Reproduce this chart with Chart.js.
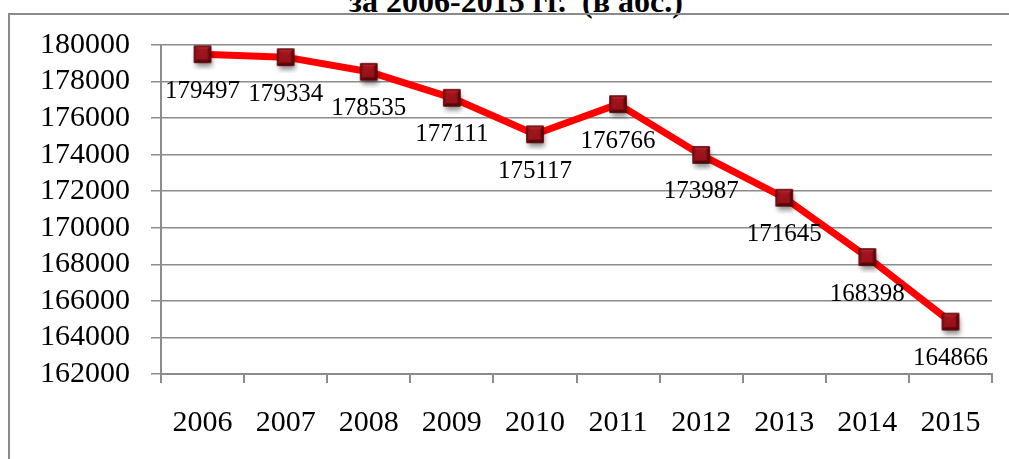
<!DOCTYPE html>
<html>
<head>
<meta charset="utf-8">
<script src="https://cdn.jsdelivr.net/npm/chart.js@4.4.1/dist/chart.umd.min.js"></script>
<style>
  html, body { margin: 0; padding: 0; background: #fff; }
  #wrap { position: relative; width: 1009px; height: 459px; overflow: hidden; background: #fff; }
  #title { position: absolute; left: 0; width: 1032px; top: -18px; text-align: center;
           font: bold 32px "Liberation Serif", "Times New Roman", serif; color: #000; white-space: pre; line-height: 38px; }
  #frameTop { position: absolute; left: 8px; top: 13px; width: 1001px; height: 2px; background: #8a8a8a; }
  #frameLeft { position: absolute; left: 8px; top: 13px; width: 2px; height: 446px; background: #8a8a8a; }
  canvas { position: absolute; left: 0; top: 0; }
</style>
</head>
<body>
<div id="wrap">
  <div id="title">за 2006-2015 гг.  (в абс.)</div>
  <div id="frameTop"></div>
  <div id="frameLeft"></div>
  <canvas id="c" width="1009" height="459"></canvas>
</div>
<script>
const categories = ["2006", "2007", "2008", "2009", "2010", "2011", "2012", "2013", "2014", "2015"];
const values = [179497, 179334, 178535, 177111, 175117, 176766, 173987, 171645, 168398, 164866];
const yMin = 162000;
const yMax = 180000;
const yStep = 2000;

// marker image (dark red bevelled square with soft shadow)
function makeMarker() {
  const cv = document.createElement('canvas');
  cv.width = 32; cv.height = 32;
  const g = cv.getContext('2d');
  const s = 17, x0 = 16 - s / 2, y0 = 16 - s / 2;
  g.save();
  g.shadowColor = 'rgba(0,0,0,0.45)';
  g.shadowBlur = 5;
  g.shadowOffsetX = 1;
  g.shadowOffsetY = 4;
  g.fillStyle = '#7d0a0e';
  g.fillRect(x0, y0, s, s);
  g.restore();
  const cx = 16, cy = 16;
  g.fillStyle = '#b0242b';
  g.beginPath(); g.moveTo(x0, y0); g.lineTo(x0 + s, y0); g.lineTo(cx, cy); g.closePath(); g.fill();
  g.fillStyle = '#8f1218';
  g.beginPath(); g.moveTo(x0, y0); g.lineTo(cx, cy); g.lineTo(x0, y0 + s); g.closePath(); g.fill();
  g.fillStyle = '#6a060a';
  g.beginPath(); g.moveTo(x0 + s, y0); g.lineTo(cx, cy); g.lineTo(x0 + s, y0 + s); g.closePath(); g.fill();
  g.fillStyle = '#5e0508';
  g.beginPath(); g.moveTo(x0, y0 + s); g.lineTo(cx, cy); g.lineTo(x0 + s, y0 + s); g.closePath(); g.fill();
  g.fillStyle = 'rgba(160,20,28,0.9)';
  g.fillRect(x0 + 3, y0 + 3, s - 6, s - 6);
  g.strokeStyle = '#4a0306';
  g.lineWidth = 1;
  g.strokeRect(x0 + 0.5, y0 + 0.5, s - 1, s - 1);
  return cv;
}

const labelPlugin = {
  id: 'valueLabels',
  afterDatasetsDraw(chart) {
    const ctx = chart.ctx;
    const meta = chart.getDatasetMeta(0);
    ctx.save();
    ctx.font = '25px "Liberation Serif", "Times New Roman", serif';
    ctx.fillStyle = '#000';
    ctx.textAlign = 'center';
    ctx.textBaseline = 'middle';
    meta.data.forEach((pt, i) => {
      ctx.fillText(String(chart.data.datasets[0].data[i]), pt.x, pt.y + 37);
    });
    ctx.restore();
  }
};

new Chart(document.getElementById('c'), {
  type: 'line',
  data: {
    labels: categories,
    datasets: [{
      data: values,
      borderColor: '#ff0000',
      borderWidth: 7,
      tension: 0,
      pointStyle: makeMarker(),
      pointRadius: 10,
      pointHoverRadius: 10,
      fill: false
    }]
  },
  options: {
    responsive: false,
    animation: false,
    events: [],
    layout: { padding: { left: 0, right: 14, top: 45, bottom: 0 } },
    plugins: { legend: { display: false }, title: { display: false }, tooltip: { enabled: false } },
    scales: {
      x: {
        offset: true,
        grid: { offset: true, drawOnChartArea: false, drawTicks: true, tickLength: 9, color: '#8c8c8c', lineWidth: 2 },
        border: { color: '#8c8c8c', width: 2 },
        ticks: { color: '#000', padding: 22, maxRotation: 0, autoSkip: false,
                 font: { family: '"Liberation Serif", "Times New Roman", serif', size: 30 } },
        afterFit(s) { s.height = 85; }
      },
      y: {
        min: yMin, max: yMax,
        grid: { color: '#8c8c8c', lineWidth: 1.5, tickLength: 10 },
        border: { color: '#8c8c8c', width: 2 },
        ticks: { stepSize: yStep, color: '#000', padding: 21, autoSkip: false,
                 font: { family: '"Liberation Serif", "Times New Roman", serif', size: 30 },
                 callback: v => String(v) },
        afterFit(s) { s.width = 161; }
      }
    }
  },
  plugins: [labelPlugin]
});
</script>
</body>
</html>
